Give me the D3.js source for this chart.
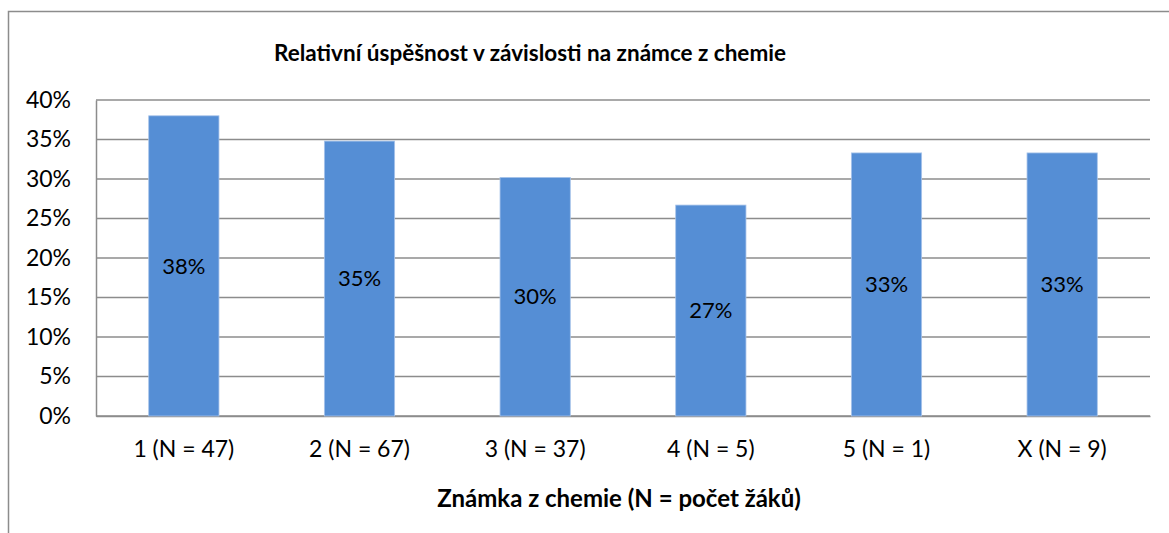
<!DOCTYPE html>
<html>
<head>
<meta charset="utf-8">
<script src="https://d3js.org/d3.v7.min.js"></script>
<style>
body { margin: 0; background: #fff; font-family: Lato, 'Open Sans', sans-serif; }
svg { display: block; }
</style>
</head>
<body>
<svg width="1169" height="533"></svg>
<script>
// data
var categories = ["1 (N = 47)", "2 (N = 67)", "3 (N = 37)", "4 (N = 5)", "5 (N = 1)", "X (N = 9)"];
var values = [0.38, 0.348, 0.302, 0.267, 0.333, 0.333];
var yTicks = [0, 0.05, 0.10, 0.15, 0.20, 0.25, 0.30, 0.35, 0.40];

var svg = d3.select("svg");

// outer chart border (right / bottom edges run off the picture)
svg.append("rect")
  .attr("x", 8.5).attr("y", 11.5)
  .attr("width", 1300).attr("height", 700)
  .attr("fill", "#fff")
  .attr("stroke", "#8c8c8c")
  .attr("stroke-width", 1.5);

var x = d3.scaleBand()
  .domain(categories)
  .range([96, 1150])
  .paddingInner(0.6)
  .paddingOuter(0.3);

var y = d3.scaleLinear()
  .domain([0, 0.4])
  .range([416, 100]);

// gridlines
svg.append("g")
  .selectAll("line")
  .data(yTicks)
  .join("line")
  .attr("x1", 96).attr("x2", 1150)
  .attr("y1", d => y(d)).attr("y2", d => y(d))
  .attr("stroke", "#8c8c8c")
  .attr("stroke-width", 1.5);

// y axis
var yAxis = d3.axisLeft(y)
  .tickValues(yTicks)
  .tickFormat(d3.format(".0%"))
  .tickSize(0)
  .tickPadding(25);

var gy = svg.append("g").attr("transform", "translate(96,0)").call(yAxis);
gy.select(".domain").attr("stroke", "#8c8c8c").attr("stroke-width", 1.5);
gy.selectAll("text")
  .attr("font-family", "Lato, sans-serif")
  .attr("font-size", "23px")
  .attr("fill", "#000");

// x axis
var xAxis = d3.axisBottom(x).tickSize(0).tickPadding(25);
var gx = svg.append("g").attr("transform", "translate(0,416)").call(xAxis);
gx.select(".domain").attr("stroke", "#8c8c8c").attr("stroke-width", 1.5);
gx.selectAll("text")
  .attr("font-family", "Lato, sans-serif")
  .attr("font-size", "23px")
  .attr("fill", "#000");

// bars
svg.append("g")
  .selectAll("rect")
  .data(values)
  .join("rect")
  .attr("x", (d, i) => x(categories[i]))
  .attr("y", d => y(d))
  .attr("width", x.bandwidth())
  .attr("height", d => y(0) - y(d))
  .attr("fill", "#558ed5")
  .attr("stroke", "#a7c4ea")
  .attr("stroke-width", 0.8);

// value labels in the middle of the bars
svg.append("g")
  .selectAll("text")
  .data(values)
  .join("text")
  .attr("x", (d, i) => x(categories[i]) + x.bandwidth() / 2)
  .attr("y", d => (y(d) + y(0)) / 2)
  .attr("dy", "0.35em")
  .attr("text-anchor", "middle")
  .attr("font-size", "22px")
  .attr("fill", "#000")
  .text(d => Math.round(d * 100) + "%");

// title
svg.append("text")
  .attr("x", 530).attr("y", 61)
  .attr("text-anchor", "middle")
  .attr("font-size", "22.5px")
  .attr("font-weight", "bold")
  .text("Relativní úspěšnost v závislosti na známce z chemie");

// x axis title
svg.append("text")
  .attr("x", 619).attr("y", 507)
  .attr("text-anchor", "middle")
  .attr("font-size", "24px")
  .attr("font-weight", "bold")
  .text("Známka z chemie (N = počet žáků)");
</script>
</body>
</html>
